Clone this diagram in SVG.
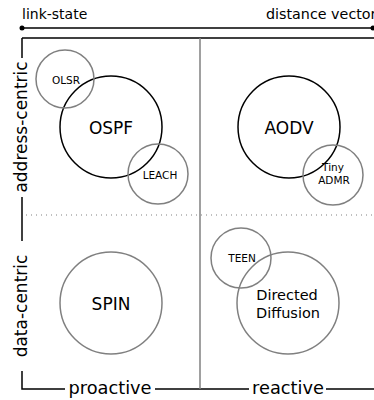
<svg xmlns="http://www.w3.org/2000/svg" width="374" height="400" viewBox="0 0 374 400">
<style>
text{font-family:"DejaVu Sans","Liberation Sans",sans-serif;fill:#000}
.ax{stroke:#000;stroke-width:1.5;fill:none}
.gr{stroke:#808080;stroke-width:1.5;fill:none}
.bk{stroke:#000;stroke-width:1.5;fill:none}
.lbl{font-size:17px}
.big{font-size:17px;text-anchor:middle}
.mid{font-size:14.5px;text-anchor:middle}
.sm{font-size:10.5px;text-anchor:middle}
</style>
<rect width="374" height="400" fill="#fff"/>
<g id="connectors">
<line class="ax" x1="22" y1="28" x2="374" y2="28"/>
<circle cx="22" cy="28" r="2.5" fill="#000"/>
<circle cx="373" cy="28" r="2.5" fill="#000"/>
<line class="ax" x1="22" y1="38" x2="374" y2="38"/>
<polyline class="ax" points="22,38 22,58"/>
<line class="ax" x1="22" y1="197" x2="22" y2="241"/>
<polyline class="ax" points="22,371 22,389 65,389"/>
<line class="ax" x1="155" y1="389" x2="249" y2="389"/>
<line class="ax" x1="326" y1="389" x2="374" y2="389"/>
<line class="gr" x1="200" y1="38" x2="200" y2="389"/>
<line x1="26" y1="215" x2="374" y2="215" stroke="#808080" stroke-width="1" stroke-dasharray="1,4"/>
</g>
<g id="axis-labels">
<text class="lbl" x="22" y="19" style="font-size:14px">link-state</text>
<text class="lbl" x="266" y="19" style="font-size:14.3px">distance vector</text>
<text class="lbl" text-anchor="middle" transform="translate(27,127) rotate(-90)">address-centric</text>
<text class="lbl" text-anchor="middle" transform="translate(27,306) rotate(-90)">data-centric</text>
<text class="lbl" text-anchor="middle" x="110" y="394" style="font-size:17.8px">proactive</text>
<text class="lbl" text-anchor="middle" x="288" y="394" style="font-size:17.8px">reactive</text>
</g>
<g id="ospf"><circle class="bk" cx="111" cy="127" r="51"/><text class="big" x="111" y="134">OSPF</text></g>
<g id="olsr"><circle class="gr" cx="65" cy="79" r="29"/><text class="sm" x="66" y="84">OLSR</text></g>
<g id="leach"><circle class="gr" cx="158" cy="174" r="30"/><text class="sm" x="160" y="179">LEACH</text></g>
<g id="aodv"><circle class="bk" cx="289" cy="127" r="51"/><text class="big" x="289" y="134">AODV</text></g>
<g id="tinyadmr"><circle class="gr" cx="333" cy="175" r="30"/><text class="sm" x="333" y="171">Tiny</text><text class="sm" x="334" y="184">ADMR</text></g>
<g id="spin"><circle class="gr" cx="111" cy="303" r="51"/><text class="big" x="111" y="310">SPIN</text></g>
<g id="teen"><circle class="gr" cx="241" cy="258" r="30"/><text class="sm" x="242" y="262">TEEN</text></g>
<g id="directed-diffusion"><circle class="gr" cx="288" cy="303" r="51"/><text class="mid" x="287" y="300">Directed</text><text class="mid" x="288" y="318">Diffusion</text></g>
</svg>
